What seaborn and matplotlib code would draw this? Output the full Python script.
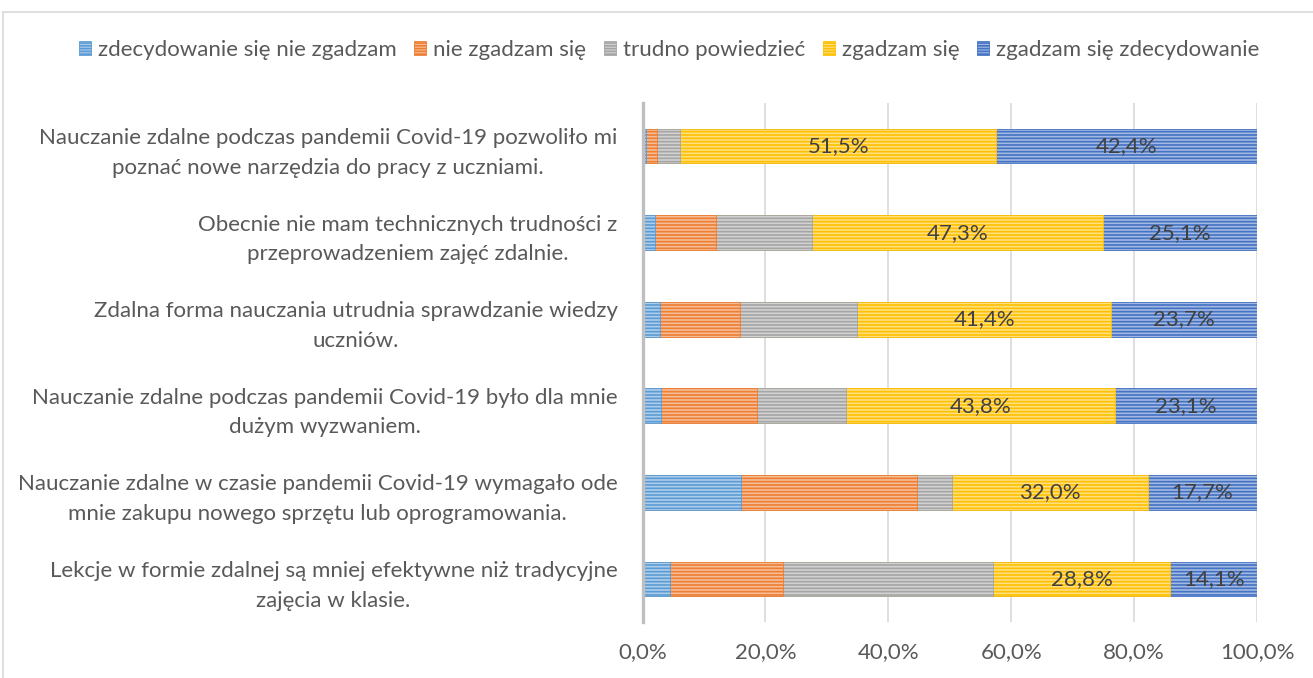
import matplotlib
matplotlib.use("Agg")
import matplotlib.pyplot as plt
import seaborn as sns
import pandas as pd
from matplotlib.lines import Line2D
from matplotlib.patches import Patch
from matplotlib.colors import to_rgb

categories = [
    "Nauczanie zdalne podczas pandemii Covid-19 pozwoliło mi\npoznać nowe narzędzia do pracy z uczniami.",
    "Obecnie nie mam technicznych trudności z\nprzeprowadzeniem zajęć zdalnie.",
    "Zdalna forma nauczania utrudnia sprawdzanie wiedzy\nuczniów.",
    "Nauczanie zdalne podczas pandemii Covid-19 było dla mnie\ndużym wyzwaniem.",
    "Nauczanie zdalne w czasie pandemii Covid-19 wymagało ode\nmnie zakupu nowego sprzętu lub oprogramowania.",
    "Lekcje w formie zdalnej są mniej efektywne niż tradycyjne\nzajęcia w klasie.",
]
series_names = ["zdecydowanie się nie zgadzam", "nie zgadzam się", "trudno powiedzieć",
                "zgadzam się", "zgadzam się zdecydowanie"]
strongly_disagree = [0.5, 2.0, 2.9, 3.0, 16.1, 4.5]
disagree = [1.8, 9.9, 12.9, 15.7, 28.6, 18.3]
hard_to_say = [3.8, 15.7, 19.1, 14.4, 5.6, 34.3]
agree = [51.5, 47.3, 41.4, 43.8, 32.0, 28.8]
strongly_agree = [42.4, 25.1, 23.7, 23.1, 17.7, 14.1]
x_ticks = [0, 20, 40, 60, 80, 100]
x_tick_labels = ["0,0%", "20,0%", "40,0%", "60,0%", "80,0%", "100,0%"]
colors = ["#5B9BD5", "#ED7D31", "#A5A5A5", "#FFC000", "#4472C4"]
labelled_series = [3, 4]

sns.set_style("white")
plt.rcParams["font.family"] = ["Lato", "DejaVu Sans"]
plt.rcParams["hatch.linewidth"] = 1.2

TXT = "#595959"
FS = 16
HATCH = "-" * 5
values = [strongly_disagree, disagree, hard_to_say, agree, strongly_agree]

fig = plt.figure(figsize=(13.13, 6.78), dpi=100)
ax = fig.add_axes([642.5 / 1313, 1 - 622.3 / 678, (1257 - 642.5) / 1313, (622.3 - 102.7) / 678])

def lighten(c, f):
    r, g, b = to_rgb(c)
    return (r + (1 - r) * f, g + (1 - g) * f, b + (1 - b) * f)

cums = []
run = [0.0] * len(categories)
for v in values:
    run = [a + b for a, b in zip(run, v)]
    cums.append(run)

for k in reversed(range(len(values))):
    df = pd.DataFrame({"cat": categories, "val": cums[k]})
    n_before = len(ax.patches)
    sns.barplot(data=df, y="cat", x="val", orient="h", ax=ax, color=colors[k],
                saturation=1, width=0.4, zorder=2)
    for p in ax.patches[n_before:]:
        p.set_facecolor(lighten(colors[k], 0.5))
        p.set_edgecolor(colors[k])
        p.set_linewidth(0.6)
        p.set_hatch(HATCH)

ax.set_xlim(0, 100)
ax.set_xticks(x_ticks)
ax.set_xticklabels(x_tick_labels)
ax.set_xlabel("")
ax.set_ylabel("")
ax.set_axisbelow(True)
ax.grid(axis="x", color="#D9D9D9", linewidth=1.2)
ax.grid(axis="y", visible=False)
for s in ["top", "right", "bottom"]:
    ax.spines[s].set_visible(False)
ax.spines["left"].set_color("#BFBFBF")
ax.spines["left"].set_linewidth(2.4)
ax.tick_params(axis="x", length=0, pad=14, labelsize=FS, labelcolor=TXT)
ax.tick_params(axis="y", length=0, pad=18, labelsize=FS, labelcolor=TXT)
for tl in ax.get_yticklabels():
    tl.set_multialignment("center")
    tl.set_linespacing(1.6)

for k in labelled_series:
    for i, v in enumerate(values[k]):
        left = cums[k][i] - v
        ax.text(left + v / 2, i, f"{v:.1f}%".replace(".", ","), ha="center", va="center",
                fontsize=FS, color="#404040", zorder=5)

handles = [Patch(facecolor=lighten(c, 0.5), edgecolor=c, linewidth=0.6, hatch="-" * 6)
           for c in colors]
fig.legend(handles, series_names, loc="center",
           bbox_to_anchor=(669 / 1313, 1 - 50 / 678), ncol=5, frameon=False,
           fontsize=FS, labelcolor=TXT, handlelength=0.55, handleheight=0.55,
           handletextpad=0.3, columnspacing=0.8)

fig.add_artist(Line2D([3 / 1313, 1], [1 - 12 / 678] * 2, transform=fig.transFigure,
                      color="#D9D9D9", linewidth=1.2))
fig.add_artist(Line2D([3 / 1313] * 2, [0, 1 - 12 / 678], transform=fig.transFigure,
                      color="#D9D9D9", linewidth=1.2))

fig.savefig("out.png", dpi=100)
